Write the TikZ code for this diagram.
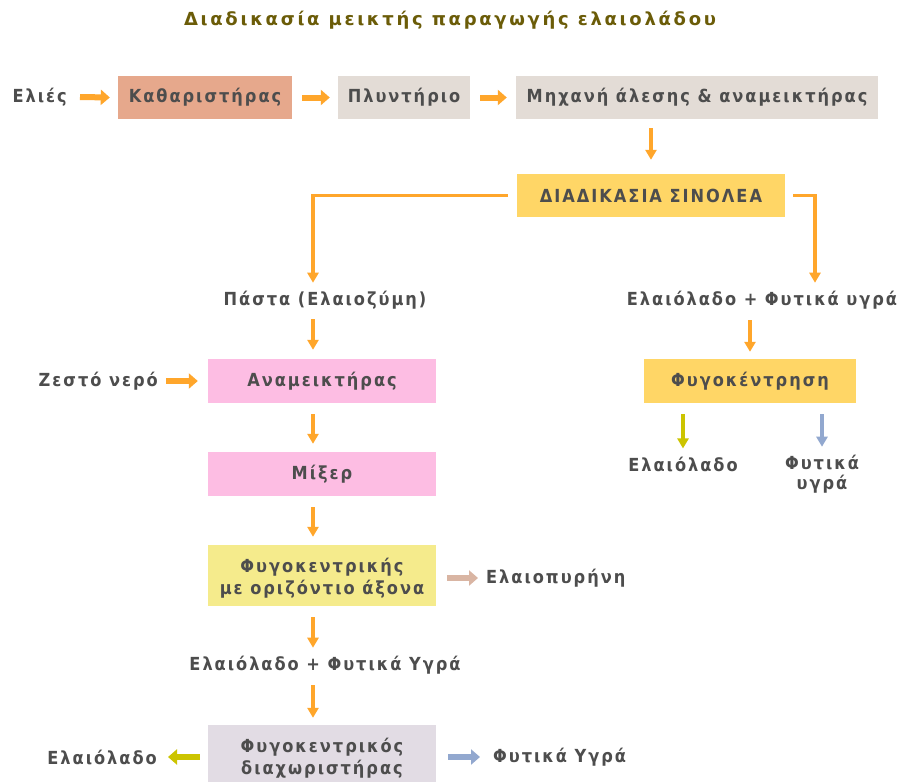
\documentclass[tikz,border=0pt]{standalone}
\usepackage{fontspec}
\setmainfont{DejaVu Sans Condensed}[LetterSpace=11]
\newfontfamily\titlefont{DejaVu Sans}[LetterSpace=15]
\usetikzlibrary{arrows.meta,calc}
\definecolor{txt}{HTML}{4D4D4D}
\definecolor{ttl}{HTML}{6B5C08}
\definecolor{orng}{HTML}{FFA62B}
\definecolor{salmon}{HTML}{E6A88C}
\definecolor{greyb}{HTML}{E3DCD6}
\definecolor{gold}{HTML}{FFD666}
\definecolor{pinkb}{HTML}{FDBDE3}
\definecolor{paley}{HTML}{F5EB8C}
\definecolor{lavg}{HTML}{E2DCE4}
\definecolor{beigea}{HTML}{D9B5A3}
\definecolor{yga}{HTML}{CCC400}
\definecolor{bluea}{HTML}{92A8CF}
\begin{document}
\begin{tikzpicture}[x=1pt,y=-1pt,
  every node/.style={font=\fontsize{18}{22}\selectfont\bfseries, text=txt, inner sep=0pt, align=center},
  box/.style={minimum height=43pt},
  varr/.style={draw=orng, line width=3.5pt, -{Triangle[length=10pt,width=11pt]}},
  harr/.style={draw=orng, line width=6pt, -{Triangle[length=9pt,width=15pt]}},
  lineo/.style={draw=orng, line width=3.5pt},
]
\useasboundingbox[fill=white] (0,0) rectangle (903,782);
\node[text=ttl, font=\titlefont\fontsize{18}{22}\selectfont\bfseries] (title) at (450,20) {Διαδικασία μεικτής παραγωγής ελαιολάδου};
% row 1
\node[anchor=east] (eli) at (67,97) {Ελιές};
\node[box, fill=salmon, minimum width=174pt] (kath) at (205,97.5) {Καθαριστήρας};
\node[box, fill=greyb, minimum width=132pt] (plyn) at (404,97.5) {Πλυντήριο};
\node[box, fill=greyb, minimum width=362pt] (mech) at (697,97.5) {Μηχανή άλεσης \& αναμεικτήρας};
\node[box, fill=gold, minimum width=268pt] (sin) at (651,195.5) {ΔΙΑΔΙΚΑΣΙΑ ΣΙΝΟΛΕΑ};
% columns
\coordinate (cL) at (313,0);
\coordinate (cR) at (815,0);
% left column
\node (pasta) at (325,300) {Πάστα (Ελαιοζύμη)};
\node[box, fill=pinkb, minimum width=228pt, minimum height=44pt] (anam) at (322,381) {Αναμεικτήρας};
\node[anchor=east] (zesto) at (158,381) {Ζεστό νερό};
\node[box, fill=pinkb, minimum width=228pt, minimum height=44pt] (mixer) at (322,474) {Μίξερ};
\node[box, fill=paley, minimum width=228pt, minimum height=61pt] (fygo) at (322,575.5) {};
\node (fygoT) at (322,578) {Φυγοκεντρικής\\με οριζόντιο άξονα};
\node[anchor=west] (pyr) at (486,578) {Ελαιοπυρήνη};
\node (oilB) at (325,665) {Ελαιόλαδο + Φυτικά Υγρά};
\node[box, fill=lavg, minimum width=228pt, minimum height=57pt] (diax) at (322,753.5) {};
\node (diaxT) at (322,758) {Φυγοκεντρικός\\διαχωριστήρας};
\node[anchor=east] (oilC) at (157,757) {Ελαιόλαδο};
\node[anchor=west] (fytC) at (493,757) {Φυτικά Υγρά};
% right column
\node (oilA) at (762,300) {Ελαιόλαδο + Φυτικά υγρά};
\node[box, fill=gold, minimum width=212pt, minimum height=44pt] (fk) at (750,381) {Φυγοκέντρηση};
\node (oilD) at (683,464) {Ελαιόλαδο};
\node (fytD) at (822,474) {Φυτικά\\[-2pt]υγρά};
% connectors row 1
\draw[harr] ([xshift=13pt]eli.east) -- ([xshift=-8pt]kath.west);
\draw[harr] ([xshift=10pt]kath.east) -- ([xshift=-8pt]plyn.west);
\draw[harr] ([xshift=10pt]plyn.east) -- ([xshift=-9pt]mech.west);
\draw[varr] ([yshift=-9pt]mech.south -| sin.north) -- ([yshift=14pt]sin.north);
% split
\draw[lineo, -{Triangle[length=10pt,width=11pt]}] ([xshift=-9pt]sin.west) -| ([yshift=8pt]pasta.north -| cL);
\draw[lineo, -{Triangle[length=10pt,width=11pt]}] ([xshift=8pt]sin.east) -| ([yshift=8pt]oilA.north -| cR);
% left column
\draw[varr] ([yshift=-10pt]pasta.south -| cL) -- ([yshift=9pt]anam.north -| cL);
\draw[harr] ([xshift=8pt]zesto.east) -- ([xshift=-10pt]anam.west);
\draw[varr] ([yshift=-11pt]anam.south -| cL) -- ([yshift=8pt]mixer.north -| cL);
\draw[varr] ([yshift=-11pt]mixer.south -| cL) -- ([yshift=8pt]fygo.north -| cL);
\draw[harr, draw=beigea] ([xshift=11pt]fygo.east |- pyr.west) -- ([xshift=-8pt]pyr.west);
\draw[varr] ([yshift=-11pt]fygo.south -| cL) -- ([yshift=8pt]oilB.north -| cL);
\draw[varr] ([yshift=-11pt]oilB.south -| cL) -- ([yshift=7pt]diax.north -| cL);
\draw[harr, draw=yga] ([xshift=-8pt]diax.west |- oilC.east) -- ([xshift=11pt]oilC.east);
\draw[harr, draw=bluea] ([xshift=12pt]diax.east |- fytC.west) -- ([xshift=-13pt]fytC.west);
% right column
\draw[varr] ([yshift=-11pt]oilA.south -| fk.north) -- ([yshift=7pt]fk.north);
\draw[varr, draw=yga] ([yshift=-11pt]fk.south -| oilD.north) -- ([yshift=8pt]oilD.north);
\draw[varr, draw=bluea] ([yshift=-11pt]fk.south -| fytD.north) -- ([yshift=8pt]fytD.north);
\end{tikzpicture}
\end{document}
